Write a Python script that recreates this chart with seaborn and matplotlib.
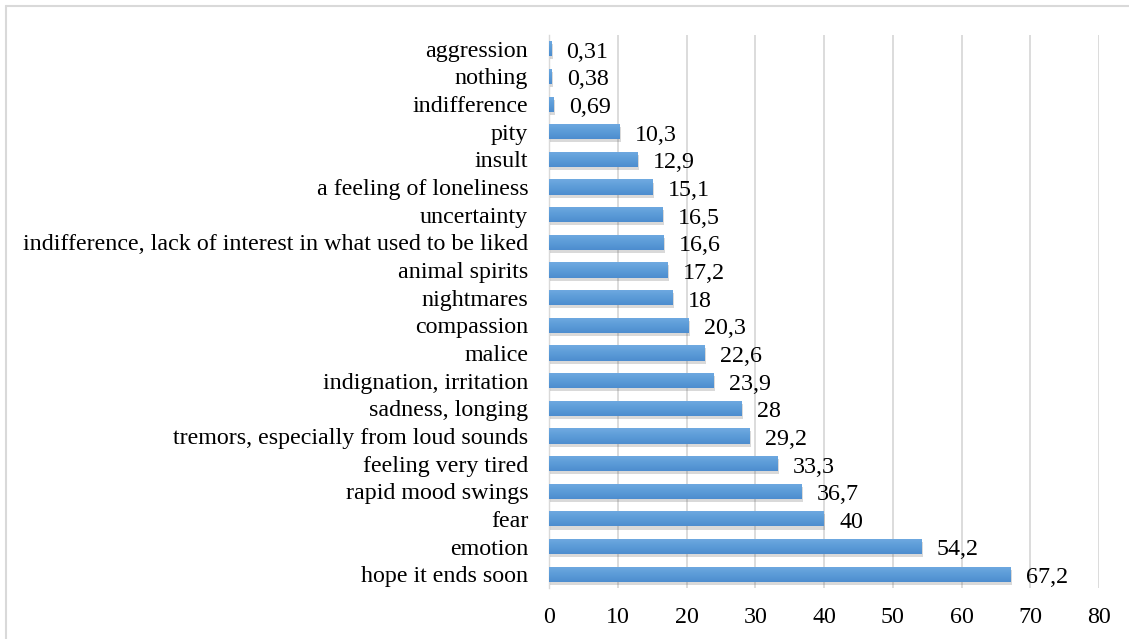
import matplotlib
matplotlib.use("Agg")
import matplotlib.pyplot as plt
import matplotlib.patheffects as pe
from matplotlib.colors import LinearSegmentedColormap
from matplotlib.lines import Line2D
import numpy as np
import seaborn as sns
import pandas as pd

categories = [
    "aggression", "nothing", "indifference", "pity", "insult",
    "a feeling of loneliness", "uncertainty",
    "indifference, lack of interest in what used to be liked",
    "animal spirits", "nightmares", "compassion", "malice",
    "indignation, irritation", "sadness, longing",
    "tremors, especially from loud sounds", "feeling very tired",
    "rapid mood swings", "fear", "emotion", "hope it ends soon",
]
values = [0.31, 0.38, 0.69, 10.3, 12.9, 15.1, 16.5, 16.6, 17.2, 18,
          20.3, 22.6, 23.9, 28, 29.2, 33.3, 36.7, 40, 54.2, 67.2]
x_ticks = [0, 10, 20, 30, 40, 50, 60, 70, 80]

df = pd.DataFrame({"category": categories, "value": values})

sns.set_theme(style="white")
plt.rcParams["font.family"] = ["Liberation Serif", "DejaVu Serif"]

FS = 17.3

fig = plt.figure(figsize=(11.29, 6.39), dpi=100)
ax = fig.add_axes([549 / 1129, 1 - 588 / 639, 550 / 1129, 553 / 639])

sns.barplot(data=df, x="value", y="category", orient="h", color="#5b9bd5",
            saturation=1, width=0.55, ax=ax, zorder=3, edgecolor="none", linewidth=0)

ax.set_xlim(0, 80)
ax.set_ylim(len(categories) - 0.5, -0.5)

# vertical gradient fill (light top, darker bottom) with a soft drop shadow
grad_cmap = LinearSegmentedColormap.from_list("barfill", ["#70aae1", "#5c9cd8", "#4d8dcf"])
grad = np.linspace(0, 1, 64).reshape(-1, 1)
for bar in list(ax.patches):
    bar.set_path_effects([pe.SimplePatchShadow(offset=(1.0, -2.2), alpha=0.22,
                                               shadow_rgbFace="#555555"),
                          pe.Normal()])
    x0, y0 = bar.get_x(), bar.get_y()
    w, h = bar.get_width(), bar.get_height()
    im = ax.imshow(grad, cmap=grad_cmap, aspect="auto", interpolation="bilinear",
                   extent=(x0, x0 + w, y0 + h, y0), origin="upper", zorder=3.5)
    im.set_clip_path(bar)

ax.set_xlim(0, 80)
ax.set_ylim(len(categories) - 0.5, -0.5)

for i, v in enumerate(values):
    ax.annotate(f"{v:g}".replace(".", ","), xy=(v, i), xytext=(11, -2.5),
                textcoords="offset points", ha="left", va="center",
                fontsize=FS, color="#000000", zorder=4)

ax.set_xticks(x_ticks)
ax.set_xticklabels([str(t) for t in x_ticks])
ax.set_xlabel("")
ax.set_ylabel("")
ax.tick_params(axis="x", labelsize=FS, length=0, pad=14, colors="#000000")
ax.tick_params(axis="y", labelsize=FS, length=0, pad=15, colors="#000000")

ax.grid(False)
for t in x_ticks:
    ax.axvline(t, color="#d9d9d9", lw=1.3, zorder=1)
for s in ["top", "right", "bottom"]:
    ax.spines[s].set_visible(False)
ax.spines["left"].set_color("#d9d9d9")
ax.spines["left"].set_linewidth(1.0)

# outer chart-area frame (top and left edges)
fig.add_artist(Line2D([6 / 1129, 6 / 1129], [1 - 6 / 639, 0], transform=fig.transFigure,
                      color="#d9d9d9", lw=1.5))
fig.add_artist(Line2D([6 / 1129, 1], [1 - 6 / 639, 1 - 6 / 639], transform=fig.transFigure,
                      color="#d9d9d9", lw=1.5))

fig.savefig("out.png", dpi=100)
